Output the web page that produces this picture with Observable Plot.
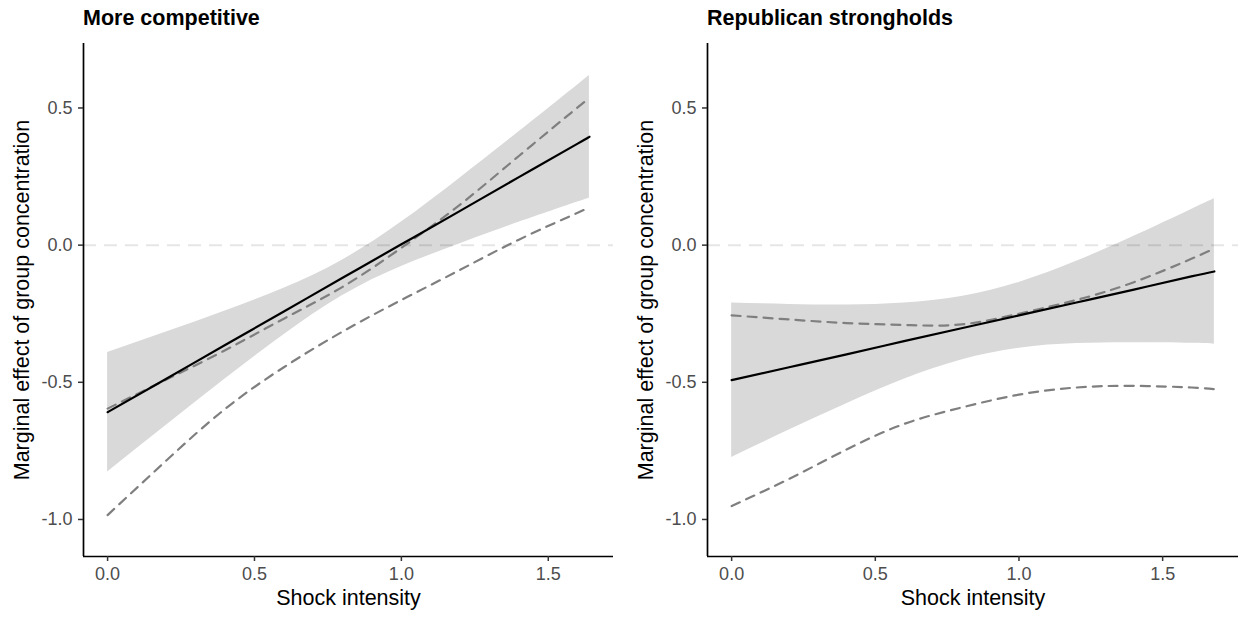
<!DOCTYPE html>
<html>
<head>
<meta charset="utf-8">
<script src="https://cdn.jsdelivr.net/npm/d3@7"></script>
<script src="https://cdn.jsdelivr.net/npm/@observablehq/plot@0.6"></script>
<style>
  html, body { margin: 0; padding: 0; background: #fff; }
  #wrap { display: flex; width: 1238px; height: 618px; font-family: "Liberation Sans", Arial, Helvetica, sans-serif; }
  .panel { width: 619px; height: 618px; }
  .ptitle { height: 26px; padding-top: 8px; font-size: 21.5px; line-height: 21.5px; font-weight: bold; color: #000; white-space: nowrap; }
  svg { display: block; }
</style>
</head>
<body>
<div id="wrap"></div>
<script>
// ---- Data ----
const panelTitles = ["More competitive", "Republican strongholds"];
const xLabel = "Shock intensity";
const yLabel = "Marginal effect of group concentration";
const xTicks = [0, 0.5, 1.0, 1.5];
const yTicks = [-1.0, -0.5, 0.0, 0.5];

// Panel 1: More competitive
const shockA      = [0, 0.2, 0.4, 0.6, 0.8, 1.0, 1.2, 1.4, 1.6, 1.64];
const effectA     = [-0.609, -0.487, -0.364, -0.242, -0.119, 0.003, 0.125, 0.248, 0.370, 0.395];
const ciLowA      = [-0.827, -0.657, -0.488, -0.327, -0.184, -0.078, 0.005, 0.083, 0.157, 0.172];
const ciHighA     = [-0.391, -0.317, -0.240, -0.157, -0.054, 0.084, 0.245, 0.413, 0.584, 0.618];
const dashUpperA  = [-0.596, -0.490, -0.383, -0.268, -0.152, -0.010, 0.148, 0.325, 0.502, 0.536];
const dashLowerA  = [-0.984, -0.785, -0.597, -0.445, -0.315, -0.200, -0.090, 0.020, 0.118, 0.138];

// Panel 2: Republican strongholds
const shockB      = [0, 0.2, 0.4, 0.6, 0.8, 1.0, 1.2, 1.4, 1.6, 1.68];
const effectB     = [-0.492, -0.445, -0.398, -0.350, -0.303, -0.256, -0.209, -0.162, -0.114, -0.096];
const ciLowB      = [-0.774, -0.674, -0.578, -0.489, -0.419, -0.376, -0.359, -0.356, -0.358, -0.361];
const ciHighB     = [-0.211, -0.216, -0.218, -0.211, -0.187, -0.136, -0.059, 0.032, 0.130, 0.169];
const dashUpperB  = [-0.256, -0.271, -0.284, -0.291, -0.289, -0.250, -0.200, -0.135, -0.050, -0.012];
const dashLowerB  = [-0.951, -0.852, -0.745, -0.652, -0.592, -0.545, -0.519, -0.513, -0.519, -0.525];

const yDomain = [-1.135, 0.735];

function panel(title, shock, effect, lo, hi, dUp, dLo, xDomain, marginLeft, marginRight) {
  const rows = shock.map((x, i) => ({x, effect: effect[i], lo: lo[i], hi: hi[i], up: dUp[i], dn: dLo[i]}));
  const fmt = d => d.toFixed(1);
  const div = document.createElement("div");
  div.className = "panel";
  const t = document.createElement("div");
  t.className = "ptitle";
  t.style.paddingLeft = marginLeft + "px";
  t.textContent = title;
  div.appendChild(t);
  const chart = Plot.plot({
    width: 619,
    height: 584,
    marginTop: 9,
    marginBottom: 62,
    marginLeft,
    marginRight,
    style: {fontFamily: '"Liberation Sans", Arial, Helvetica, sans-serif', background: "#fff", overflow: "visible"},
    x: {domain: xDomain},
    y: {domain: yDomain},
    marks: [
      Plot.areaY(rows, {x: "x", y1: "lo", y2: "hi", fill: "#d9d9d9", curve: "natural"}),
      Plot.ruleY([0], {stroke: "#000", strokeOpacity: 0.1, strokeWidth: 2, strokeDasharray: "13,8"}),
      Plot.lineY(rows, {x: "x", y: "up", stroke: "#7f7f7f", strokeWidth: 2.2, strokeDasharray: "9,7", curve: "natural"}),
      Plot.lineY(rows, {x: "x", y: "dn", stroke: "#7f7f7f", strokeWidth: 2.2, strokeDasharray: "9,7", curve: "natural"}),
      Plot.lineY(rows, {x: "x", y: "effect", stroke: "#000", strokeWidth: 2.2, curve: "natural"}),
      Plot.ruleX([xDomain[0]], {stroke: "#000", strokeWidth: 1.7}),
      Plot.ruleY([yDomain[0]], {stroke: "#000", strokeWidth: 1.7}),
      Plot.axisX({ticks: xTicks, tickFormat: fmt, tickSize: 5, tickPadding: 6, fontSize: 18, fill: "#4d4d4d", stroke: "#333", strokeWidth: 1.5, label: null}),
      Plot.axisY({ticks: yTicks, tickFormat: fmt, tickSize: 5, tickPadding: 6, fontSize: 18, fill: "#4d4d4d", stroke: "#333", strokeWidth: 1.5, label: null}),
      Plot.text([xLabel], {frameAnchor: "bottom", textAnchor: "middle", lineAnchor: "middle", dy: 42, fontSize: 21.5, fill: "#000"}),
      Plot.text([yLabel], {frameAnchor: "left", textAnchor: "middle", lineAnchor: "middle", dx: -61, rotate: -90, fontSize: 21.5, fill: "#000"})
    ]
  });
  div.appendChild(chart);
  return div;
}

const wrap = document.getElementById("wrap");
wrap.appendChild(panel(panelTitles[0], shockA, effectA, ciLowA, ciHighA, dashUpperA, dashLowerA, [-0.082, 1.722], 83, 6));
wrap.appendChild(panel(panelTitles[1], shockB, effectB, ciLowB, ciHighB, dashUpperB, dashLowerB, [-0.084, 1.764], 88, 0));
</script>
</body>
</html>
